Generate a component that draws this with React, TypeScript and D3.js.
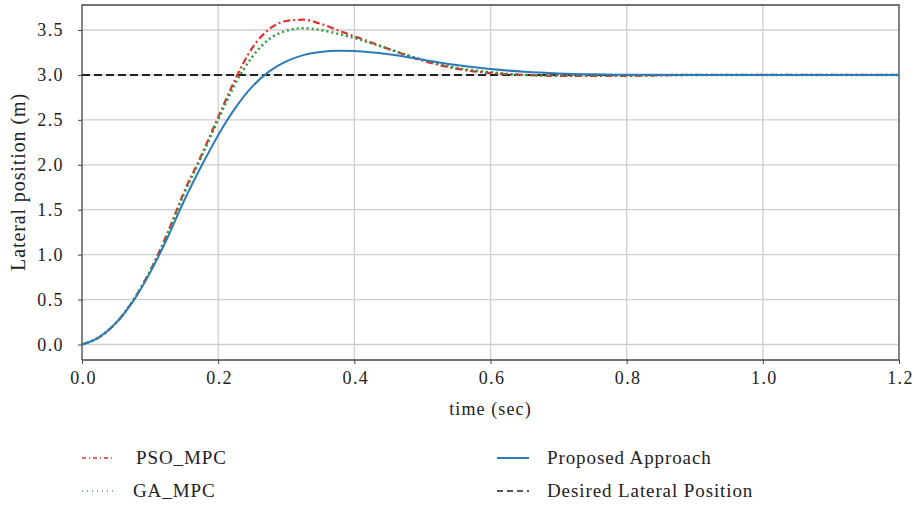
import React, { useEffect, useRef } from "react";
import * as d3 from "d3";

// time samples (sec)
const time = [0, 0.025, 0.05, 0.075, 0.1, 0.125, 0.15, 0.175, 0.2, 0.225, 0.25, 0.275, 0.3, 0.325, 0.35, 0.375, 0.4, 0.45, 0.5, 0.55, 0.6, 0.65, 0.7, 0.75, 0.8, 0.9, 1.0, 1.1, 1.2];

// lateral position (m) per method
const psoMpc = [0, 0.08, 0.24, 0.49, 0.82, 1.23, 1.7, 2.1, 2.53, 2.95, 3.3, 3.51, 3.6, 3.615, 3.57, 3.5, 3.43, 3.29, 3.16, 3.07, 3.02, 3.0, 2.99, 2.99, 2.99, 3.0, 3.0, 3.0, 3.0];
const gaMpc = [0, 0.08, 0.24, 0.49, 0.82, 1.22, 1.68, 2.08, 2.5, 2.9, 3.2, 3.4, 3.49, 3.52, 3.5, 3.46, 3.41, 3.29, 3.17, 3.08, 3.03, 3.0, 2.995, 2.995, 2.995, 3.0, 3.0, 3.0, 3.0];
const proposed = [0, 0.08, 0.24, 0.48, 0.8, 1.18, 1.6, 1.98, 2.33, 2.63, 2.87, 3.04, 3.15, 3.22, 3.255, 3.27, 3.265, 3.23, 3.17, 3.11, 3.065, 3.035, 3.017, 3.007, 3.002, 3.0, 3.0, 3.0, 3.0];
const desired = 3.0;

const xTicks = [0, 0.2, 0.4, 0.6, 0.8, 1.0, 1.2];
const yTicks = [0, 0.5, 1.0, 1.5, 2.0, 2.5, 3.0, 3.5];

const series = [
  { name: "PSO_MPC", values: psoMpc, color: "#e0302c", dash: "7,3,2,3", width: 2.2 },
  { name: "GA_MPC", values: gaMpc, color: "#2e9a3c", dash: "2,3", width: 2.4 },
  { name: "Proposed Approach", values: proposed, color: "#2b7bb9", dash: null, width: 2 },
];

const W = 913;
const H = 507;
const FONT = "'Liberation Serif', 'Times New Roman', serif";

export default function App() {
  const ref = useRef<SVGSVGElement>(null);

  useEffect(() => {
    const svg = d3.select(ref.current);
    svg.selectAll("*").remove();

    const left = 82, right = 899, top = 5, bottom = 360;
    const x = d3.scaleLinear().domain([0, 1.2]).range([left, right]);
    const y = d3.scaleLinear().domain([0, 3.5]).range([344.5, 30]);

    // grid
    svg.append("g")
      .selectAll("line.v")
      .data(xTicks.slice(1, -1))
      .enter()
      .append("line")
      .attr("x1", (d) => x(d)).attr("x2", (d) => x(d))
      .attr("y1", top).attr("y2", bottom)
      .attr("stroke", "#cfcfcf").attr("stroke-width", 1.3);
    svg.append("g")
      .selectAll("line.h")
      .data(yTicks)
      .enter()
      .append("line")
      .attr("x1", left).attr("x2", right)
      .attr("y1", (d) => y(d)).attr("y2", (d) => y(d))
      .attr("stroke", "#cfcfcf").attr("stroke-width", 1.3);

    // frame
    svg.append("path")
      .attr("d", `M${left},${bottom}V${top}H${right}V${bottom}H${left}`)
      .attr("fill", "none").attr("stroke", "#444").attr("stroke-width", 1.3);

    // axes
    const xAxis = svg.append("g")
      .attr("transform", `translate(0,${bottom})`)
      .call(d3.axisBottom(x).tickValues(xTicks).tickFormat(d3.format(".1f")).tickSize(4).tickPadding(7));
    xAxis.select(".domain").remove();
    xAxis.selectAll("line").attr("stroke", "#444");
    xAxis.selectAll("text")
      .attr("font-family", FONT).attr("font-size", 18).attr("letter-spacing", 1.4)
      .attr("dx", 1).attr("fill", "#222");

    const yAxis = svg.append("g")
      .attr("transform", `translate(${left},0)`)
      .call(d3.axisLeft(y).tickValues(yTicks).tickFormat(d3.format(".1f")).tickSize(4).tickPadding(14));
    yAxis.select(".domain").remove();
    yAxis.selectAll("line").attr("stroke", "#444");
    yAxis.selectAll("text")
      .attr("font-family", FONT).attr("font-size", 18).attr("letter-spacing", 1.4)
      .attr("fill", "#222");

    // axis titles
    svg.append("text")
      .attr("x", (left + right) / 2).attr("y", 415)
      .attr("text-anchor", "middle")
      .attr("font-family", FONT).attr("font-size", 18).attr("letter-spacing", 1.1).attr("fill", "#222")
      .text("time (sec)");
    svg.append("text")
      .attr("transform", `translate(25,${182}) rotate(-90)`)
      .attr("text-anchor", "middle")
      .attr("font-family", FONT).attr("font-size", 20).attr("letter-spacing", 0.9).attr("fill", "#222")
      .text("Lateral position (m)");

    // desired line
    svg.append("line")
      .attr("x1", x(0)).attr("x2", x(1.2))
      .attr("y1", y(desired)).attr("y2", y(desired))
      .attr("stroke", "#222").attr("stroke-width", 2).attr("stroke-dasharray", "8,4");

    const line = d3.line<number>()
      .x((d, i) => x(time[i]))
      .y((d) => y(d))
      .curve(d3.curveMonotoneX);

    series.forEach((s) => {
      svg.append("path")
        .datum(s.values)
        .attr("d", line)
        .attr("fill", "none")
        .attr("stroke", s.color)
        .attr("stroke-width", s.width)
        .attr("stroke-dasharray", s.dash);
    });

    // legend
    const legend = [
      { name: "PSO_MPC", color: "#e0302c", dash: "4,3,1,3", x: 82, tx: 136, y: 458, w: 1.5 },
      { name: "GA_MPC", color: "#45a85a", dash: "1,4", x: 82, tx: 133, y: 491, w: 1.5 },
      { name: "Proposed Approach", color: "#2b7bb9", dash: null, x: 497, tx: 547, y: 458, w: 2 },
      { name: "Desired Lateral Position", color: "#222", dash: "6,4", x: 497, tx: 547, y: 491, w: 1.5 },
    ];
    legend.forEach((l) => {
      svg.append("line")
        .attr("x1", l.x).attr("x2", l.x + 32)
        .attr("y1", l.y).attr("y2", l.y)
        .attr("stroke", l.color).attr("stroke-width", l.w)
        .attr("stroke-dasharray", l.dash);
      svg.append("text")
        .attr("x", l.tx).attr("y", l.y + 6)
        .attr("font-family", FONT).attr("font-size", 19).attr("letter-spacing", 0.9).attr("fill", "#222")
        .text(l.name);
    });
  }, []);

  return (
    <svg ref={ref} width={W} height={H} style={{ position: "absolute", left: 0, top: 0, background: "#fff" }} />
  );
}
